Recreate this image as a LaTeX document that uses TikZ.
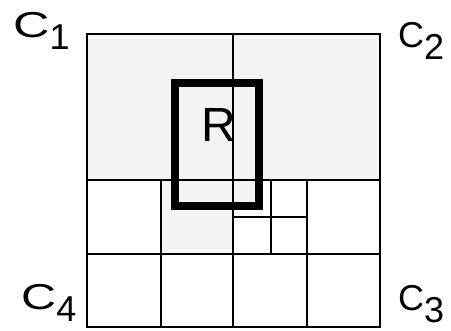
\documentclass[tikz,border=0pt]{standalone}
\usepackage{fontspec}
\setmainfont{Liberation Sans}
\definecolor{cellgray}{HTML}{F4F4F4}
\tikzset{
  thin line/.style={line width=1.2pt, black},
  thick line/.style={line width=2.8pt, black},
  region/.style={line width=8pt, black},
  label/.style={inner sep=0pt, anchor=base west, font=\fontsize{36}{40}\selectfont},
}
\newcommand{\sublbl}[2]{#1\raisebox{-12pt}{#2}}
\begin{document}
\begin{tikzpicture}[x=1pt,y=-1pt]
\useasboundingbox (0,0) rectangle (451,331);
% shading
\fill[cellgray] (87,34) rectangle (380,180);
\fill[cellgray] (161,180) rectangle (233,254);
\fill[cellgray] (233,180) rectangle (259,206);
% grid
\draw[thin line] (87,34) rectangle (380,327);
\draw[thin line] (233,34) -- (233,327);
\draw[thin line] (87,180) -- (380,180);
\draw[thin line] (87,254) -- (380,254);
\draw[thick line] (161,180) -- (161,327);
\draw[thick line] (307,180) -- (307,327);
\draw[thick line] (271,180) -- (271,254);
\draw[line width=2.4pt] (233,217) -- (307,217);
% query region
\draw[region] (175,83) rectangle (259,206);
\node[inner sep=0pt, anchor=base west, font=\fontsize{48}{52}\selectfont] (r) at (201,142) {R};
% corner labels
\node[label] (c1) at (13,38) {\sublbl{\scalebox{1.4}[1]{C}}{1}};
\node[label] (c2) at (398,48) {\sublbl{C}{2}};
\node[label] (c4) at (21,310) {\sublbl{\scalebox{1.35}[1]{C}}{4}};
\node[label] (c3) at (398,311) {\sublbl{C}{3}};
\end{tikzpicture}
\end{document}
